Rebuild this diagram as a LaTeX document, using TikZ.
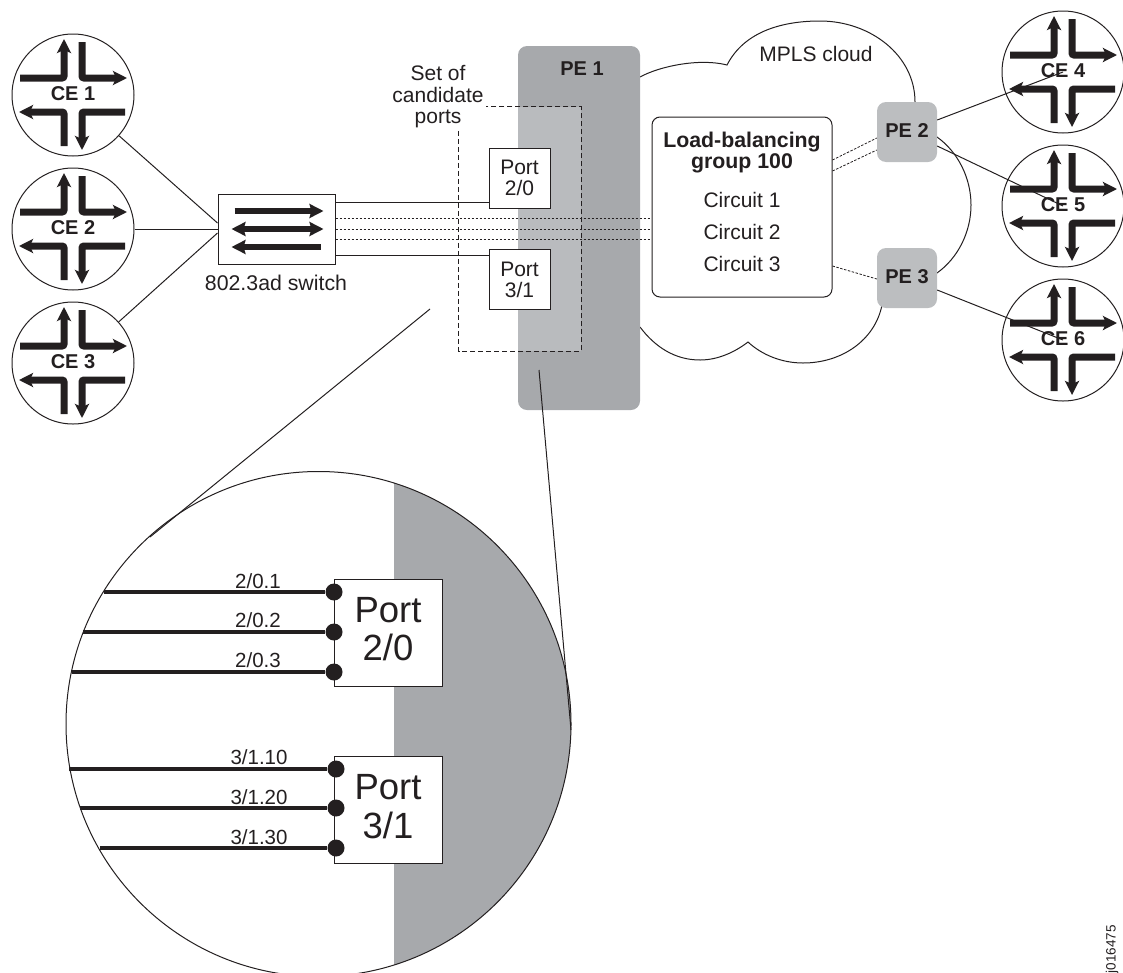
\documentclass[tikz,border=0pt]{standalone}
\usepackage{fontspec}
\setmainfont{Liberation Sans}
\usepackage{xcolor}
\usetikzlibrary{shapes,arrows.meta,positioning,calc}

\definecolor{ink}{HTML}{231F20}
\definecolor{pegray}{HTML}{A7A9AC}
\definecolor{pelight}{HTML}{B9BBBE}
\definecolor{pesmall}{HTML}{BCBEC0}

\begin{document}
\begin{tikzpicture}[
    x=1pt, y=-1pt,
    node distance=11pt,
    every node/.style={text=ink, inner sep=0pt},
    router/.style={circle, draw=ink, line width=1pt, minimum size=122pt, text height=14.5pt, text depth=3pt, font=\fontsize{20}{21}\selectfont\bfseries},
    icon/.style={draw=ink, line width=7pt, rounded corners=2pt, -{Stealth[length=14pt, width=14pt, inset=3pt]}},
    swicon/.style={draw=ink, line width=6.5pt, -{Stealth[length=14pt, width=14pt, inset=2pt]}},
    routericon/.pic={
        \draw [icon] (-53,-17) -- (-9,-17) -- (-9,-56);
        \draw [icon] (9,-53) -- (9,-17) -- (54,-17);
        \draw [icon] (-9,51) -- (-9,17) -- (-54,17);
        \draw [icon] (52,17) -- (9,17) -- (9,55);
    },
    txt/.style={align=center, font=\fontsize{21}{21.5}\selectfont},
    boldtxt/.style={align=center, font=\fontsize{20}{21}\selectfont\bfseries},
    portbox/.style={rectangle, draw=ink, fill=white, line width=1pt, align=center, minimum width=61pt, minimum height=60pt, font=\fontsize{21}{21}\selectfont},
    bigport/.style={rectangle, draw=ink, fill=white, line width=1pt, align=center, minimum width=108pt, minimum height=107pt, text depth=7pt, font=\fontsize{36.5}{38.5}\selectfont},
    pebox/.style={rectangle, fill=pesmall, rounded corners=9pt, minimum width=60pt, minimum height=60pt, text height=14.5pt, text depth=4pt, font=\fontsize{20}{21}\selectfont\bfseries},
    link/.style={draw=ink, line width=1pt},
    circuit/.style={draw=ink, line width=0.8pt, dash pattern=on 2.5pt off 1.5pt},
    subif/.style={draw=ink, line width=3.2pt},
    dot/.style={circle, fill=ink, minimum size=17pt},
    tag/.style={font=\fontsize{20.5}{20.5}\selectfont}
]
    \useasboundingbox (0,0) rectangle (1123,972);

    % customer routers
    \node [router] (ce1) at (73,95) {CE 1};
    \node [router, below=of ce1] (ce2) {CE 2};
    \node [router, below=of ce2] (ce3) {CE 3};
    \node [router] (ce4) at (1063,72) {CE 4};
    \node [router, below=of ce4] (ce5) {CE 5};
    \node [router, below=of ce5] (ce6) {CE 6};
    \pic at (ce1) {routericon};
    \pic at (ce2) {routericon};
    \pic at (ce3) {routericon};
    \pic at (ce4) {routericon};
    \pic at (ce5) {routericon};
    \pic at (ce6) {routericon};

    % the cloud
    \draw [link] (640,77) .. controls (660,66) and (700,58) .. (727,65)
        .. controls (745,30) and (785,21) .. (820,21)
        .. controls (870,21) and (915,55) .. (915,102);
    \draw [link] (937,137) .. controls (958,152) and (971,178) .. (971,205)
        .. controls (971,232) and (958,258) .. (937,273);
    \draw [link] (882,305) .. controls (875,340) and (842,363) .. (803,363)
        .. controls (782,363) and (762,355) .. (748,342)
        .. controls (735,352) and (718,360) .. (700,360)
        .. controls (675,360) and (655,347) .. (640,327);
    \node [txt] (cloudtxt) at (816,54) {MPLS cloud};

    % provider edge 1 and the candidate ports
    \node [rectangle, fill=pegray, rounded corners=9pt, minimum width=122pt, minimum height=364pt] (pe1) at (579,228) {};
    \node [rectangle, minimum width=122pt, minimum height=244pt] (candset) at (520,229) {};
    \fill [pelight] (pe1.west |- candset.north) rectangle (candset.south east);
    \draw [draw=ink, line width=1pt, dash pattern=on 5pt off 3pt] (candset.north west) rectangle (candset.south east);
    \node [boldtxt] (pe1txt) at (582,69) {PE 1};
    \node [txt, fill=white, inner sep=2pt] (candtxt) at (438,97) {Set of\\candidate\\ports};
    \node [portbox] (port20) at (519.5,178) {Port\\2/0};
    \node [portbox, below=40.5pt of port20] (port31) {Port\\3/1};

    % load balancing group and the other edges
    \node [rectangle, draw=ink, fill=white, line width=1pt, rounded corners=8pt, minimum width=180pt, minimum height=180pt] (lbgroup) at (742,207) {};
    \node [boldtxt, font=\fontsize{21.3}{21.3}\selectfont\bfseries] (lbtxt) at (742,152.5) {Load-balancing\\group 100};
    \node [txt] (c1) at (742,200) {Circuit 1};
    \node [txt] (c2) at (742,232) {Circuit 2};
    \node [txt] (c3) at (742,264) {Circuit 3};
    \node [pebox] (pe2) at (907,132) {PE 2};
    \node [pebox] (pe3) at (907,278) {PE 3};

    % the switch
    \node [rectangle, draw=ink, fill=white, line width=1pt, minimum width=117pt, minimum height=70pt] (sw) at (276.5,229) {};
    \node [txt, font=\fontsize{21.3}{21.5}\selectfont] (swtxt) at (276,283) {802.3ad switch};
    \coordinate (swa) at ($(sw.west)+(17,-18)$);
    \coordinate (swb) at ($(sw.east)+(-12,-18)$);
    \coordinate (swc) at ($(sw.west)+(14,0)$);
    \coordinate (swd) at ($(sw.east)+(-12,0)$);
    \coordinate (swe) at ($(sw.east)+(-15,18)$);
    \coordinate (swf) at ($(sw.west)+(14,18)$);
    \draw [swicon] (swa) -- (swb);
    \draw [swicon, {Stealth[length=14pt, width=14pt, inset=2pt]}-{Stealth[length=14pt, width=14pt, inset=2pt]}] (swc) -- (swd);
    \draw [swicon] (swe) -- (swf);

    \coordinate (swup) at ($(sw.east)+(0,-27)$);
    \coordinate (swdown) at ($(sw.east)+(0,26)$);
    \draw [link] (ce1) -- ($(sw.west)+(0,-6)$);
    \draw [link] (ce2) -- (sw.west);
    \draw [link] (ce3) -- ($(sw.west)+(0,4)$);
    \draw [link] (swup) -- (swup -| port20.west);
    \draw [link] (swdown) -- (swdown -| port31.west);
    \draw [circuit] ($(sw.east)+(0,-11)$) -- ($(lbgroup.west)+(0,11)$);
    \draw [circuit] (sw.east) -- ($(lbgroup.west)+(0,22)$);
    \draw [circuit] ($(sw.east)+(0,10)$) -- ($(lbgroup.west)+(0,32)$);
    \draw [circuit] ($(lbgroup.east)+(0,-47)$) -- ($(pe2.west)+(0,6)$);
    \draw [circuit] ($(lbgroup.east)+(0,-36)$) -- ($(pe2.west)+(0,18)$);
    \draw [circuit] ($(lbgroup.east)+(0,59)$) -- ($(pe3.west)+(0,1)$);
    \draw [link] ($(pe2.east)+(0,-12)$) -- (ce4.center);
    \draw [link] ($(pe2.east)+(0,14)$) -- (ce5.center);
    \draw [link] ($(pe3.east)+(0,12)$) -- (ce6.center);

    % magnified view
    \node [circle, minimum size=505pt] (zoomview) at (318.5,724) {};
    \begin{scope}
        \clip (318.5,724) circle (252.5);
        \fill [pegray] (394,460) rectangle (600,1000);
    \end{scope}
    \draw [link] (318.5,724) circle (252.5);
    \coordinate (picka) at (430,309);
    \coordinate (pickb) at (539,370);
    \coordinate (edgea) at (150,537);
    \coordinate (edgeb) at (571,730);
    \draw [link] (picka) -- (edgea);
    \draw [link] (pickb) -- (edgeb);

    \node [bigport] (bigport20) at (388,632.5) {Port\\2/0};
    \node [bigport] (bigport31) at (388,810) {Port\\3/1};

    \coordinate (s1) at (104,592);
    \coordinate (s2) at (83,632);
    \coordinate (s3) at (72,672);
    \coordinate (s4) at (69,769);
    \coordinate (s5) at (80,808);
    \coordinate (s6) at (100,848);
    \node [dot] (d1) at (334,592) {};
    \node [dot] (d2) at (334,632) {};
    \node [dot] (d3) at (334,672) {};
    \node [dot] (d4) at (336,769) {};
    \node [dot] (d5) at (336,808) {};
    \node [dot] (d6) at (336,848) {};
    \draw [subif] (s1) -- (d1);
    \draw [subif] (s2) -- (d2);
    \draw [subif] (s3) -- (d3);
    \draw [subif] (s4) -- (d4);
    \draw [subif] (s5) -- (d5);
    \draw [subif] (s6) -- (d6);
    \node [tag] (t1) at (258,581) {2/0.1};
    \node [tag] (t2) at (258,620) {2/0.2};
    \node [tag] (t3) at (258,660) {2/0.3};
    \node [tag] (t4) at (259,757) {3/1.10};
    \node [tag] (t5) at (259,797) {3/1.20};
    \node [tag] (t6) at (259,837) {3/1.30};

    \node [rotate=90, font=\fontsize{13.5}{13.5}\selectfont] (figid) at (1112,949) {j016475};
\end{tikzpicture}
\end{document}
